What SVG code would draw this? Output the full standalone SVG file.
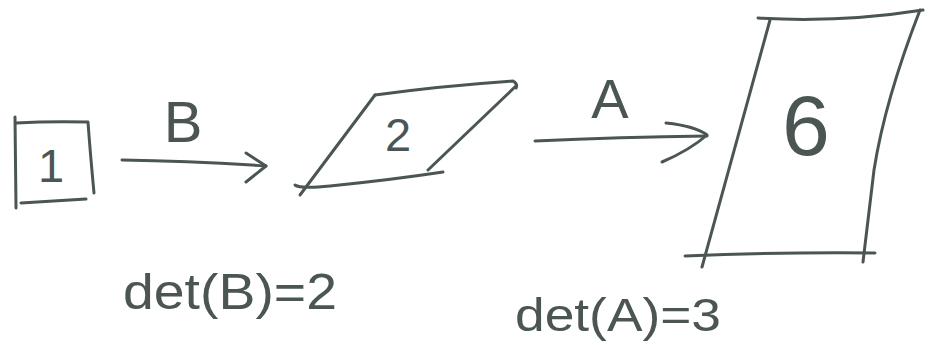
<svg xmlns="http://www.w3.org/2000/svg" width="930" height="345" viewBox="0 0 930 345">
<style>
.s{fill:none;stroke:#4b5654;stroke-width:3;stroke-linecap:round;stroke-linejoin:round}
.t{font-family:"Liberation Sans",Arial,sans-serif;fill:#4b5654;text-anchor:middle}
</style>
<rect width="930" height="345" fill="#ffffff"/>
<g id="node-1">
<path class="s" d="M15,117 L16,208"/>
<path class="s" d="M16,123 Q50,121 88,122 Q90,150 94,193"/>
<path class="s" d="M21,203 Q55,201 86,199"/>
<text class="t" x="51" y="182" font-size="47">1</text>
</g>
<g id="node-2">
<path class="s" d="M375,95 Q440,86 513,81 Q518,84 516,88"/>
<path class="s" d="M375,95 L300,195"/>
<path class="s" d="M295,185 Q300,189 330,186 Q390,180 443,172"/>
<path class="s" d="M516,86 L428,170"/>
<text class="t" x="398" y="151" font-size="47">2</text>
</g>
<g id="node-6">
<path class="s" d="M758,18 Q840,23 923,10"/>
<path class="s" d="M770,20 L702,267"/>
<path class="s" d="M920,10 Q885,100 874,170 L863,262"/>
<path class="s" d="M685,256 Q780,252 875,253"/>
<text class="t" x="806" y="155" font-size="86">6</text>
</g>
<g id="connectors">
<path class="s" d="M122,160 Q190,161 266,166"/>
<path class="s" d="M246,153 L266,166 L246,182"/>
<text class="t" x="183" y="142" font-size="58">B</text>
<path class="s" d="M535,141 Q620,137 707,136"/>
<path class="s" d="M666,123 Q695,126 707,135 Q690,150 662,162"/>
<text class="t" x="610" y="118" font-size="56">A</text>
</g>
<text class="t" x="230" y="309" font-size="50" textLength="214" lengthAdjust="spacingAndGlyphs">det(B)=2</text>
<text class="t" x="618" y="331" font-size="46" textLength="206" lengthAdjust="spacingAndGlyphs">det(A)=3</text>
</svg>
